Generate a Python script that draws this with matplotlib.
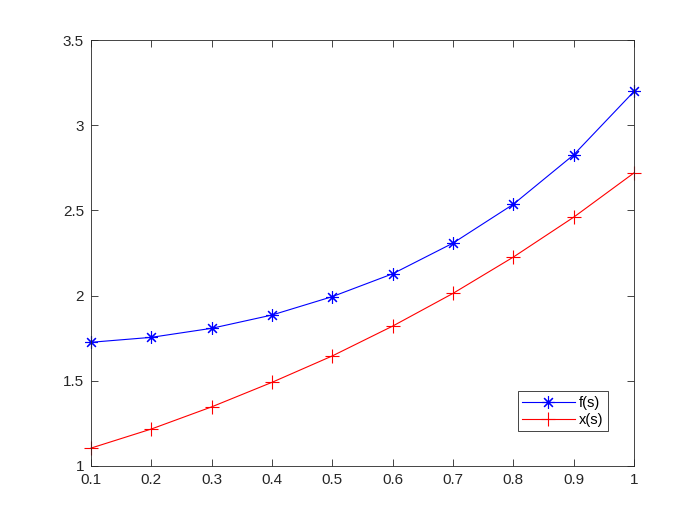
import matplotlib.pyplot as plt

plt.rcParams['font.family'] = ['Liberation Sans', 'DejaVu Sans']

# values
s = [0.1, 0.2, 0.3, 0.4, 0.5, 0.6, 0.7, 0.8, 0.9, 1.0]
f_s = [1.726, 1.755, 1.808, 1.886, 1.994, 2.128, 2.308, 2.536, 2.826, 3.198]
x_s = [1.105, 1.217, 1.347, 1.491, 1.646, 1.821, 2.013, 2.226, 2.460, 2.720]

xticks = [0.1, 0.2, 0.3, 0.4, 0.5, 0.6, 0.7, 0.8, 0.9, 1]
xlabels = ['0.1', '0.2', '0.3', '0.4', '0.5', '0.6', '0.7', '0.8', '0.9', '1']
yticks = [1, 1.5, 2, 2.5, 3, 3.5]
ylabels = ['1', '1.5', '2', '2.5', '3', '3.5']

fig = plt.figure(figsize=(7, 5.25), dpi=100)
ax = fig.add_axes([0.13, 0.1124, 0.7757, 0.8114])

ax.plot(s, f_s, color='b', linewidth=0.8, marker=(8, 2, 0), markersize=9,
        markeredgewidth=0.8, label='f(s)', clip_on=False)
ax.plot(s, x_s, color='r', linewidth=0.8, marker='+', markersize=10,
        markeredgewidth=0.8, label='x(s)', clip_on=False)

ax.set_xlim(0.1, 1)
ax.set_ylim(1, 3.5)
ax.set_xticks(xticks)
ax.set_xticklabels(xlabels)
ax.set_yticks(yticks)
ax.set_yticklabels(ylabels)

axcol = (0.15, 0.15, 0.15)
ax.tick_params(direction='in', top=True, right=True, length=5, width=0.6,
               colors=axcol, labelsize=11, labelcolor=axcol, pad=5)
for sp in ax.spines.values():
    sp.set_color(axcol)
    sp.set_linewidth(0.6)

leg = ax.legend(loc='lower right', bbox_to_anchor=(0.952, 0.082), numpoints=1,
                handlelength=3.6, fontsize=10.5, fancybox=False, framealpha=1,
                edgecolor=axcol, borderpad=0.3, labelspacing=0.2,
                handletextpad=0.3, borderaxespad=0)
leg.get_frame().set_linewidth(0.6)

fig.savefig('out.png', dpi=100)
